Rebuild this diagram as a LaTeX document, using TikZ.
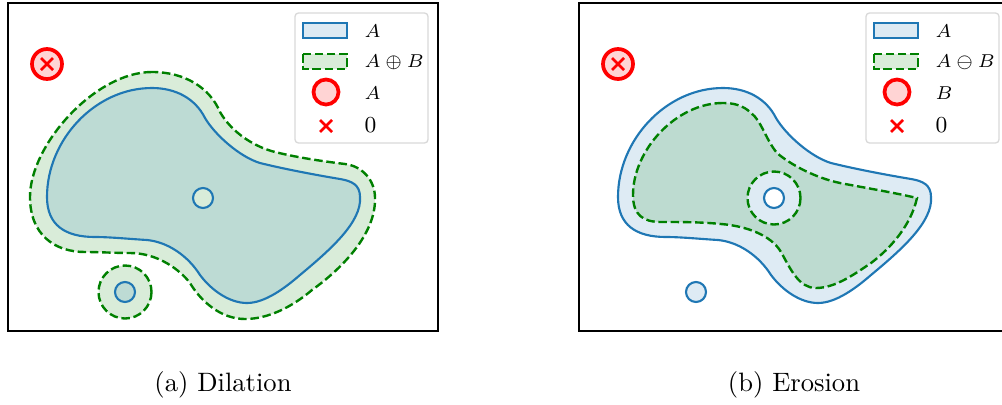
\documentclass[tikz,border=0pt]{standalone}
\usepackage{amsmath}
\definecolor{tabblue}{HTML}{1F77B4}
\definecolor{mplgreen}{HTML}{008000}
\tikzset{
  afill/.style={fill=tabblue, fill opacity=0.15},
  bfill/.style={fill=mplgreen, fill opacity=0.15},
  aline/.style={draw=tabblue, line width=0.8pt},
  bline/.style={draw=mplgreen, line width=0.9pt, dash pattern=on 3.2pt off 1.4pt},
  redring/.style={draw=red, line width=1.4pt, fill=red!17},
  redcross/.style={draw=red, line width=1.0pt},
  frame/.style={draw=black, line width=0.6pt},
  legbox/.style={draw=black!15, line width=0.5pt, fill=white, rounded corners=1.3pt},
  leglab/.style={anchor=west, inner sep=0pt, font=\fontsize{7.2}{9}\selectfont},
  caption/.style={font=\fontsize{10}{12}\selectfont, inner sep=0pt}
}
% blob A
\def\blobA{(152,88) .. controls (95,88) and (47,140) .. (47,197)
 .. controls (47,225) and (65,237) .. (95,237)
 .. controls (110,237) and (130,239) .. (147,240)
 .. controls (168,242) and (188,256) .. (200,275)
 .. controls (212,291) and (230,303) .. (247,303)
 .. controls (265,303) and (285,288) .. (300,275)
 .. controls (330,250) and (362,222) .. (360,197)
 .. controls (360,185) and (352,181) .. (340,179)
 .. controls (310,174) and (280,168) .. (260,163)
 .. controls (240,157) and (215,135) .. (205,118)
 .. controls (195,98) and (175,88) .. cycle}
% dilation of A
\def\blobD{(152,72) .. controls (95,72) and (30,145) .. (30,197)
 .. controls (30,235) and (55,252) .. (85,252)
 .. controls (100,252) and (115,253) .. (130,253)
 .. controls (158,253) and (180,270) .. (190,283)
 .. controls (200,300) and (220,319) .. (245,319)
 .. controls (268,319) and (292,307) .. (312,290)
 .. controls (340,270) and (376,235) .. (375,198)
 .. controls (375,180) and (362,166) .. (345,164)
 .. controls (320,161) and (295,157) .. (275,152)
 .. controls (255,147) and (232,133) .. (220,112)
 .. controls (210,88) and (185,72) .. cycle}
% erosion of A
\def\blobE{(152,103) .. controls (105,103) and (62,150) .. (62,195)
 .. controls (62,215) and (72,222) .. (90,222)
 .. controls (110,222) and (130,222) .. (150,224)
 .. controls (175,226) and (200,235) .. (210,252)
 .. controls (220,270) and (228,288) .. (245,288)
 .. controls (265,288) and (285,273) .. (300,263)
 .. controls (320,248) and (340,225) .. (346,198)
 .. controls (320,192) and (295,188) .. (269,183)
 .. controls (245,178) and (220,165) .. (206,153)
 .. controls (195,140) and (190,120) .. (180,113)
 .. controls (172,105) and (162,103) .. cycle}
\begin{document}
\begin{tikzpicture}[x=0.376pt, y=-0.376pt]
\useasboundingbox (0,0) rectangle (1002,404);
\clip (0,0) rectangle (1002,404);

% ================= Panel (a): Dilation =================
\fill[bfill] \blobD;
\fill[bfill] (125,292) circle[radius=26.5];
\fill[afill, even odd rule] \blobA (203,198) circle[radius=10];
\fill[afill] (125,292) circle[radius=10];
\draw[aline] \blobA;
\draw[aline] (203,198) circle[radius=10];
\draw[aline] (125,292) circle[radius=10];
\draw[bline] \blobD;
\draw[bline] (125,292) circle[radius=26.5];
\draw[redring] (47,64) circle[radius=15];
\draw[redcross] (41,58) -- (53,70) (41,70) -- (53,58);
\draw[frame] (8,3) rectangle (438,331);
\draw[legbox] (295,13) rectangle (428,143);
\fill[afill] (303,23) rectangle (347,38);
\draw[aline] (303,23) rectangle (347,38);
\fill[bfill] (303,54) rectangle (347,69);
\draw[bline] (303,54) rectangle (347,69);
\draw[redring] (326,92) circle[radius=12.5];
\draw[redcross] (320,120) -- (332,132) (320,132) -- (332,120);
\node[leglab] (la1) at (364,31) {$A$};
\node[leglab] (la2) at (364,62) {$A\oplus B$};
\node[leglab] (la3) at (364,93) {$A$};
\node[leglab, font=\fontsize{8.6}{10}\selectfont] (la4) at (364,125) {0};
\node[caption] (capa) at (223,385) {(a) Dilation};

% ================= Panel (b): Erosion =================
\begin{scope}[shift={(571,0)}]
\fill[afill, even odd rule] \blobA (203,198) circle[radius=10];
\fill[afill] (125,292) circle[radius=10];
\fill[bfill, even odd rule] \blobE (203,198) circle[radius=26.5];
\draw[aline] \blobA;
\draw[aline] (203,198) circle[radius=10];
\draw[aline] (125,292) circle[radius=10];
\draw[bline] \blobE;
\draw[bline] (203,198) circle[radius=26.5];
\draw[redring] (47,64) circle[radius=15];
\draw[redcross] (41,58) -- (53,70) (41,70) -- (53,58);
\draw[frame] (8,3) rectangle (438,331);
\draw[legbox] (295,13) rectangle (428,143);
\fill[afill] (303,23) rectangle (347,38);
\draw[aline] (303,23) rectangle (347,38);
\fill[bfill] (303,54) rectangle (347,69);
\draw[bline] (303,54) rectangle (347,69);
\draw[redring] (326,92) circle[radius=12.5];
\draw[redcross] (320,120) -- (332,132) (320,132) -- (332,120);
\node[leglab] (lb1) at (364,31) {$A$};
\node[leglab] (lb2) at (364,62) {$A\ominus B$};
\node[leglab] (lb3) at (364,93) {$B$};
\node[leglab, font=\fontsize{8.6}{10}\selectfont] (lb4) at (364,125) {0};
\node[caption] (capb) at (223,385) {(b) Erosion};
\end{scope}
\end{tikzpicture}
\end{document}
